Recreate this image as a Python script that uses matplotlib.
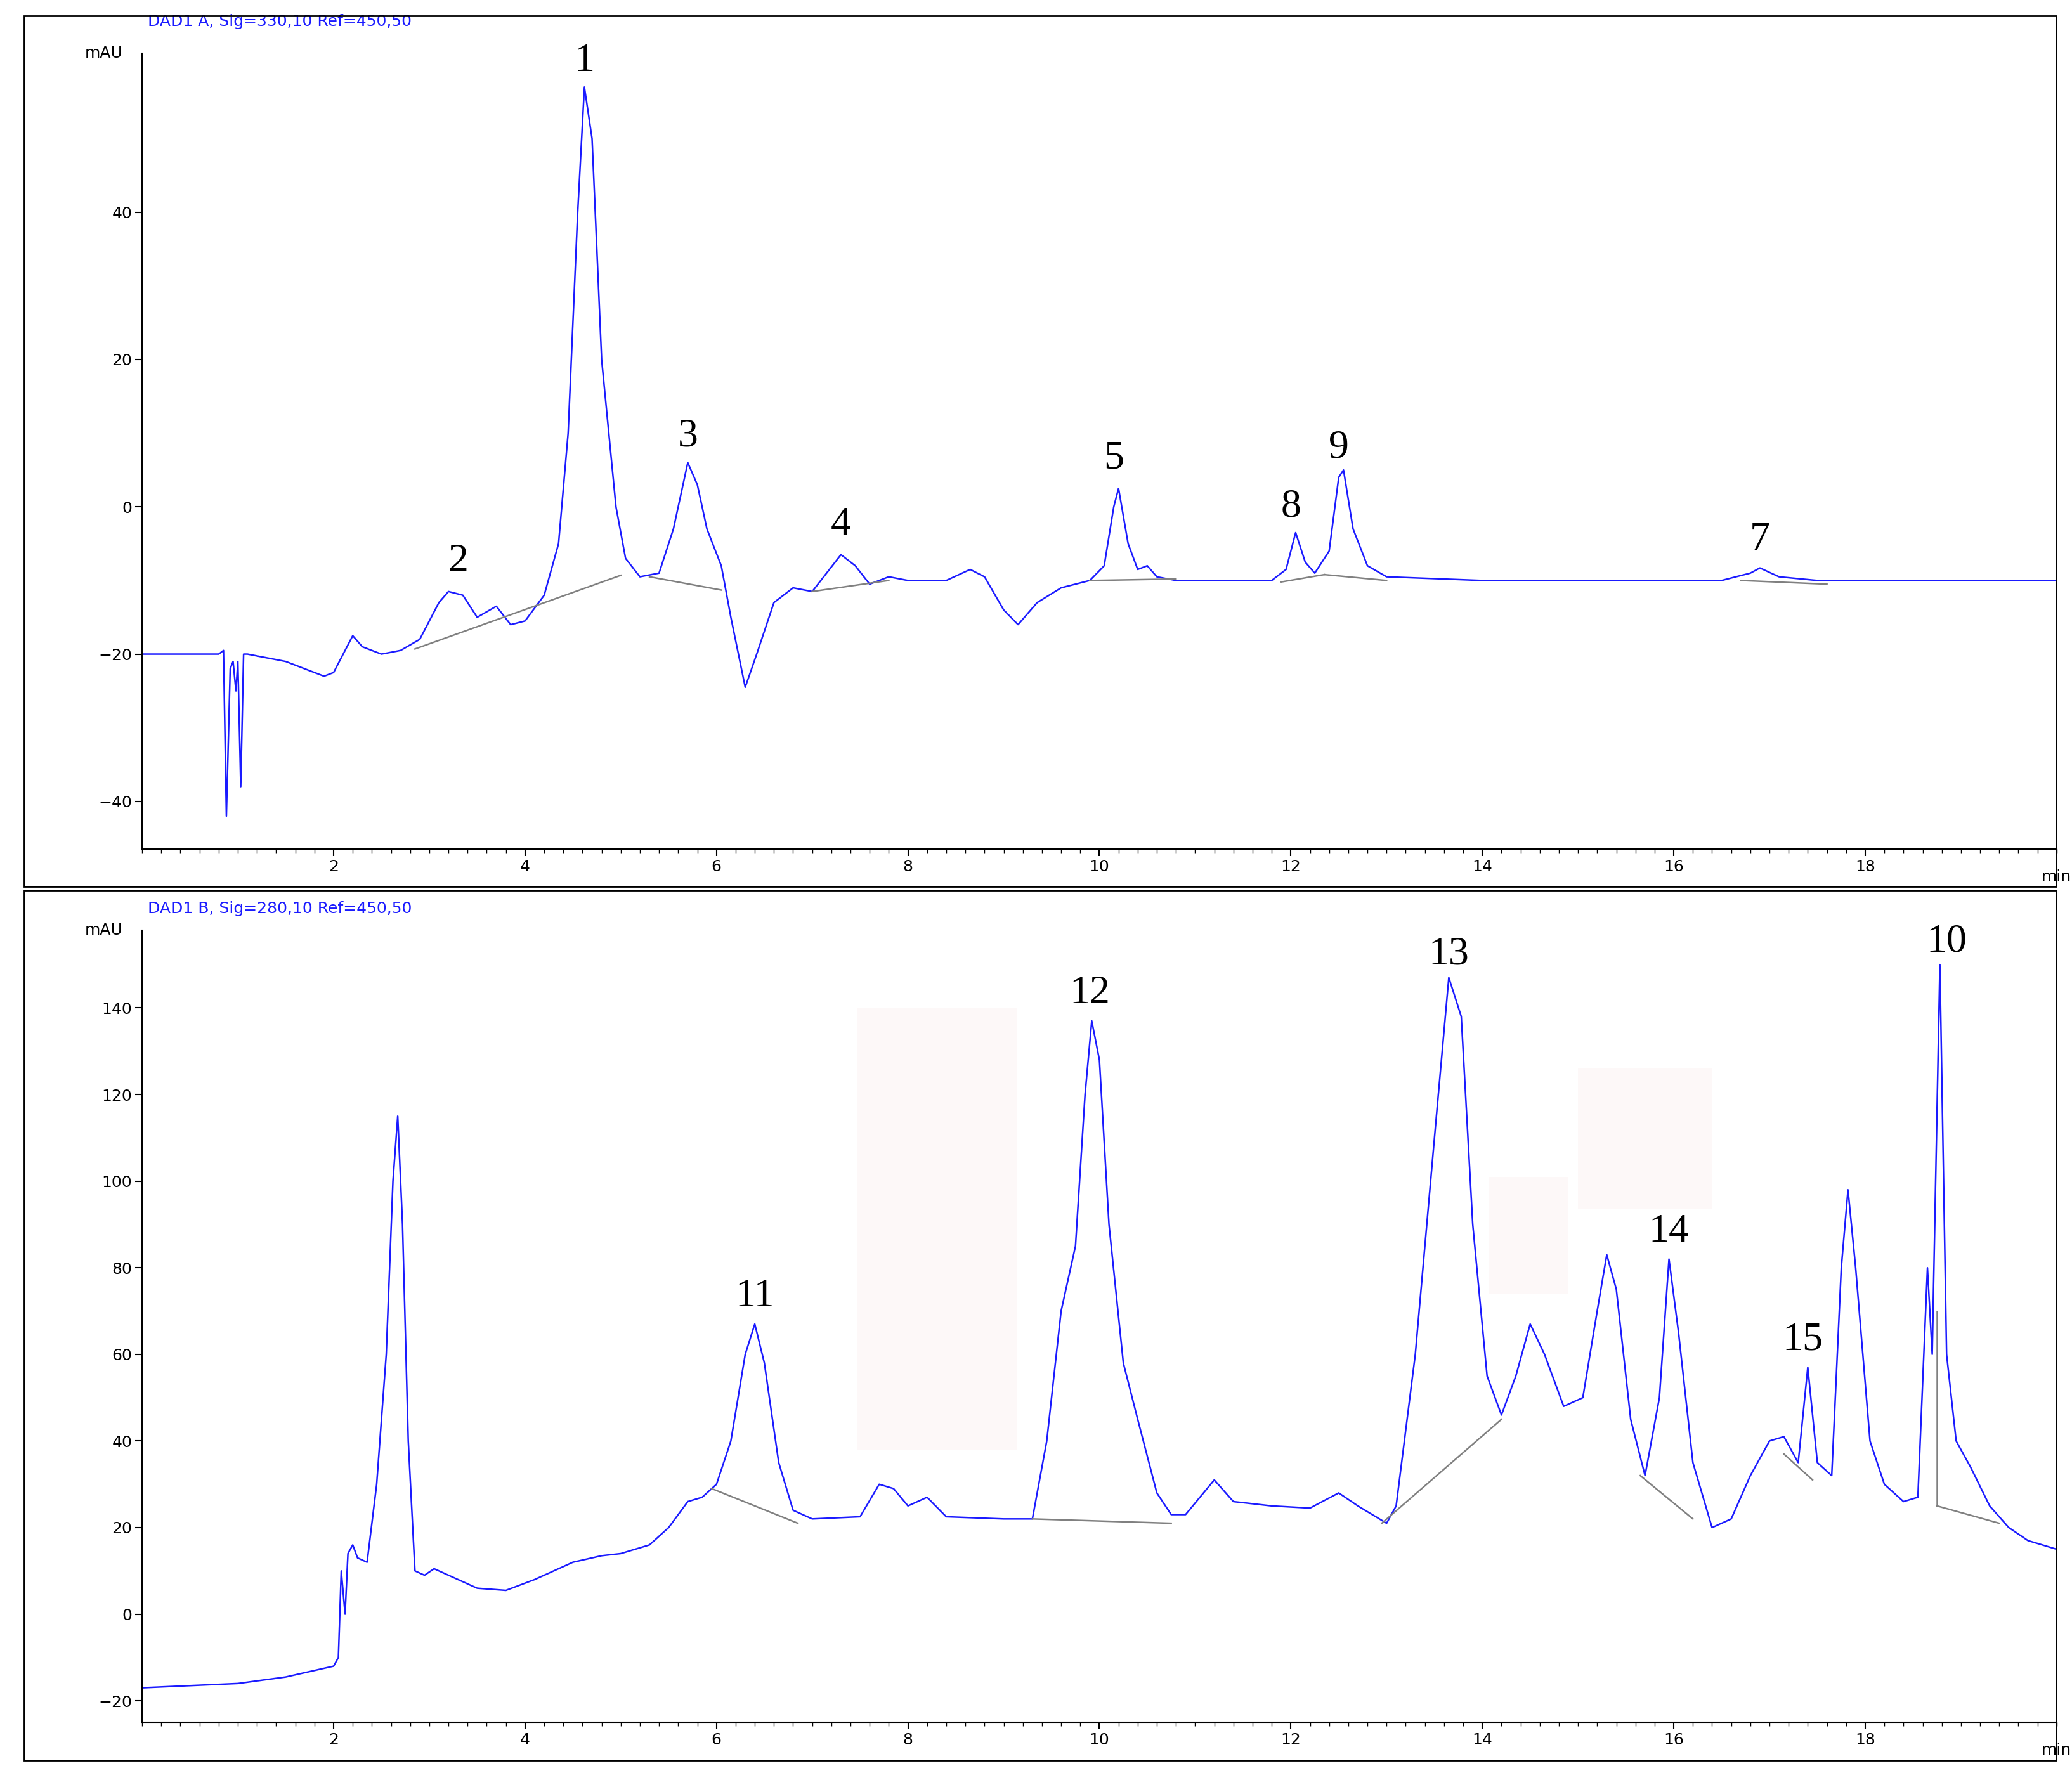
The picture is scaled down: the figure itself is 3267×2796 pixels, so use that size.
import matplotlib
matplotlib.use("Agg")
import matplotlib.pyplot as plt
from matplotlib.patches import Rectangle

# ---- Data: top trace (DAD1 A, 330 nm) ----
tA = [0,0.8,0.85,0.88,0.92,0.95,0.98,1.0,1.03,1.06,1.1,1.5,1.7,1.9,2.0,2.1,2.2,2.3,2.5,2.7,2.9,3.1,3.2,3.35,3.5,3.7,3.85,4.0,4.2,4.35,4.45,4.55,4.62,4.7,4.8,4.95,5.05,5.2,5.4,5.55,5.7,5.8,5.9,6.05,6.15,6.3,6.42,6.6,6.8,7.0,7.15,7.3,7.45,7.6,7.8,8.0,8.4,8.65,8.8,9.0,9.15,9.35,9.6,9.9,10.05,10.15,10.2,10.3,10.4,10.5,10.6,10.8,11.8,11.95,12.05,12.15,12.25,12.4,12.5,12.55,12.65,12.8,13.0,14.0,16.5,16.8,16.9,17.1,17.5,20.0]
yA = [-20,-20,-19.5,-42,-22,-21,-25,-21,-38,-20,-20,-21,-22,-23,-22.5,-20,-17.5,-19,-20,-19.5,-18,-13,-11.5,-12,-15,-13.5,-16,-15.5,-12,-5,10,40,57,50,20,0,-7,-9.5,-9,-3,6,3,-3,-8,-15,-24.5,-20,-13,-11,-11.5,-9,-6.5,-8,-10.5,-9.5,-10,-10,-8.5,-9.5,-14,-16,-13,-11,-10,-8,0,2.5,-5,-8.5,-8,-9.5,-10,-10,-8.5,-3.5,-7.5,-9,-6,4,5,-3,-8,-9.5,-10,-10,-9,-8.3,-9.5,-10,-10]
baseA = [((2.85,-19.3),(5.0,-9.3)),((5.3,-9.5),(6.05,-11.3)),((7.0,-11.5),(7.8,-10.0)),
         ((9.9,-10.0),(10.8,-9.8)),((11.9,-10.2),(12.35,-9.2)),((12.35,-9.2),(13.0,-10.0)),
         ((16.7,-10.0),(17.6,-10.5))]
labA = ["1","2","3","4","5","8","9","7"]
labA_pos = [(4.62,58),(3.3,-10),(5.7,7),(7.3,-5),(10.15,4),(12.0,-2.5),(12.5,5.5),(16.9,-7)]

# ---- Data: bottom trace (DAD1 B, 280 nm) ----
tB = [0,1,1.5,2.0,2.05,2.08,2.12,2.15,2.2,2.25,2.35,2.45,2.55,2.62,2.67,2.72,2.78,2.85,2.95,3.05,3.2,3.5,3.8,4.1,4.5,4.8,5.0,5.3,5.5,5.7,5.85,6.0,6.15,6.3,6.4,6.5,6.65,6.8,7.0,7.5,7.7,7.85,8.0,8.2,8.4,9.0,9.3,9.45,9.6,9.75,9.85,9.92,10.0,10.1,10.25,10.4,10.6,10.75,10.9,11.2,11.4,11.8,12.2,12.5,12.7,13.0,13.1,13.3,13.5,13.65,13.78,13.9,14.05,14.2,14.35,14.5,14.65,14.85,15.05,15.2,15.3,15.4,15.55,15.7,15.85,15.95,16.05,16.2,16.4,16.6,16.8,17.0,17.15,17.3,17.4,17.5,17.65,17.75,17.82,17.9,18.05,18.2,18.4,18.55,18.65,18.7,18.78,18.85,18.95,19.1,19.3,19.5,19.7,20.0]
yB = [-17,-16,-14.5,-12,-10,10,0,14,16,13,12,30,60,100,115,90,40,10,9,10.5,9,6,5.5,8,12,13.5,14,16,20,26,27,30,40,60,67,58,35,24,22,22.5,30,29,25,27,22.5,22,22,40,70,85,120,137,128,90,58,45,28,23,23,31,26,25,24.5,28,25,21,25,60,110,147,138,90,55,46,55,67,60,48,50,70,83,75,45,32,50,82,65,35,20,22,32,40,41,35,57,35,32,80,98,80,40,30,26,27,80,60,150,60,40,34,25,20,17,15]
baseB = [((5.95,29),(6.85,21)),((9.3,22),(10.75,21)),((12.95,21),(14.2,45)),((15.65,32),(16.2,22)),
         ((17.15,37),(17.45,31)),((18.75,70),(18.75,25)),((18.75,25),(19.4,21))]
labB = ["11","12","13","14","15","10"]
labB_pos = [(6.4,69),(9.9,139),(13.65,148),(15.95,84),(17.35,59),(18.85,151)]

blue = "#1a1aff"
fig = plt.figure(figsize=(32.67, 27.96), dpi=100)

fig.add_artist(Rectangle((0.0115, 0.500), 0.981, 0.491, transform=fig.transFigure, fill=False, lw=2, ec="black"))
fig.add_artist(Rectangle((0.0115, 0.007), 0.981, 0.491, transform=fig.transFigure, fill=False, lw=2, ec="black"))

def setup(ax, ylim, yticks, title, ty):
    ax.set_xlim(0, 20)
    ax.set_ylim(*ylim)
    for s in ["top", "right"]:
        ax.spines[s].set_visible(False)
    ax.spines["left"].set_linewidth(1.5)
    ax.spines["bottom"].set_linewidth(1.5)
    ax.set_xticks([2,4,6,8,10,12,14,16,18])
    ax.set_xticks([x/5 for x in range(0,101)], minor=True)
    ax.set_yticks(yticks)
    ax.tick_params(labelsize=18, length=8, width=1.5)
    ax.tick_params(which="minor", length=4, width=1)
    ax.text(-0.01, 1.0, "mAU", transform=ax.transAxes, ha="right", va="center", fontsize=18)
    ax.text(1.0, -0.035, "min", transform=ax.transAxes, ha="center", va="center", fontsize=18)
    ax.text(0.003, ty, title, transform=ax.transAxes, ha="left", va="center", fontsize=18, color=blue)

axA = fig.add_axes([0.0686, 0.521, 0.924, 0.449])
setup(axA, (-46.5, 61.6), [-40,-20,0,20,40], "DAD1 A, Sig=330,10 Ref=450,50", 1.04)
axA.plot(tA, yA, color=blue, lw=1.8)
for (a, b) in baseA:
    axA.plot([a[0], b[0]], [a[1], b[1]], color="gray", lw=1.8)
for s, (x, y) in zip(labA, labA_pos):
    axA.text(x, y, s, ha="center", va="bottom", fontsize=46, family="Liberation Serif")

axB = fig.add_axes([0.0686, 0.0285, 0.924, 0.447])
setup(axB, (-25, 158), [-20,0,20,40,60,80,100,120,140], "DAD1 B, Sig=280,10 Ref=450,50", 1.027)
for (x0, y0, w, h) in [(7.47, 38, 1.67, 102), (15.0, 93.5, 1.4, 32.5), (14.07, 74, 0.83, 27)]:
    axB.add_patch(Rectangle((x0, y0), w, h, color="#fdf8f8", zorder=0, lw=0))
axB.plot(tB, yB, color=blue, lw=1.8)
for (a, b) in baseB:
    axB.plot([a[0], b[0]], [a[1], b[1]], color="gray", lw=1.8)
for s, (x, y) in zip(labB, labB_pos):
    axB.text(x, y, s, ha="center", va="bottom", fontsize=46, family="Liberation Serif")

fig.savefig("out.png", dpi=100)
